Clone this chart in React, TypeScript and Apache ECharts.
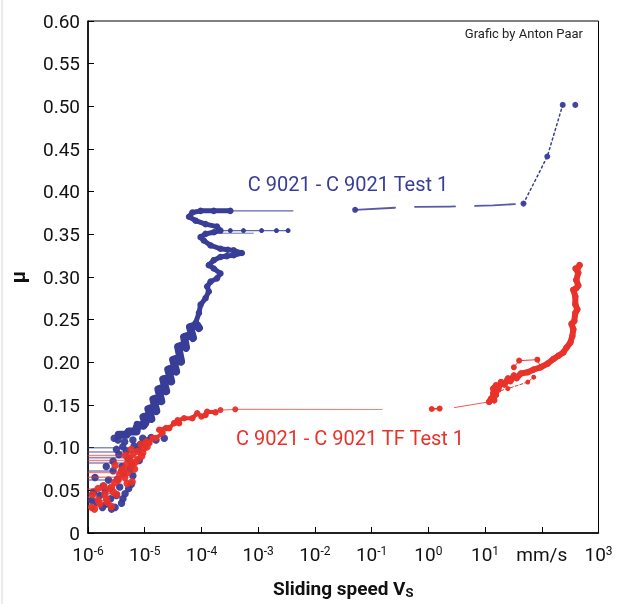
import React, { useEffect, useRef } from "react";
import * as echarts from "echarts";

const BLUE = "#383D98";
const RED = "#E8322A";
const FONT = "Roboto";

// x-axis decades (mm/s) and y range
const xExponents = [-6, -5, -4, -3, -2, -1, 0, 1, 2, 3];
const unitExponent = 2; // position of the "mm/s" label
const yTicks = [0, 0.05, 0.1, 0.15, 0.2, 0.25, 0.3, 0.35, 0.4, 0.45, 0.5, 0.55, 0.6];

// ---------- C 9021 - C 9021 Test 1 (blue) ----------
const blueCluster: [number, number][] = [
  [1.42e-6, 0.036], [2.12e-6, 0.034], [1.16e-6, 0.038], [4.13e-6, 0.04], [1.62e-6, 0.044],
  [3.17e-6, 0.044], [1.85e-6, 0.055], [3.62e-6, 0.054], [1.33e-6, 0.065], [6.18e-6, 0.067],
  [2.77e-6, 0.073], [2.77e-6, 0.084], [5.05e-6, 0.088], [3.17e-6, 0.098], [4.74e-6, 0.096],
  [7.55e-6, 0.098], [3.38e-6, 0.109], [4.43e-6, 0.107], [6.18e-6, 0.109], [9.24e-6, 0.111],
  [1.58e-5, 0.109], [2.21e-5, 0.111], [3.62e-6, 0.115], [5.41e-6, 0.119], [7.08e-6, 0.123],
  [2.3e-6, 0.062], [4.0e-6, 0.078], [5.5e-6, 0.075], [2.0e-6, 0.05], [3.0e-6, 0.03],
  [2.5e-6, 0.04], [5.8e-6, 0.057], [4.5e-6, 0.046], [1.25e-6, 0.048], [8.0e-6, 0.085],
  [3.5e-6, 0.092], [6.5e-6, 0.102], [1.1e-5, 0.108], [2.6e-6, 0.028], [1.8e-6, 0.03],
  [3.9e-6, 0.035], [5.2e-6, 0.052], [3.3e-6, 0.063], [4.2e-6, 0.07], [2.1e-6, 0.078],
  [5.9e-6, 0.081], [4.1e-6, 0.101], [8.4e-6, 0.104], [2.9e-6, 0.111], [1.3e-5, 0.112],
];
const blueClimb: [number, number][] = [
  [3.48e-6, 0.1152], [4.8e-6, 0.1152], [5.2e-6, 0.119], [7.17e-6, 0.119], [7.46e-6, 0.1267],
  [9.5e-6, 0.1256], [1.03e-5, 0.129], [9.5e-6, 0.136], [1.21e-5, 0.1383], [1.31e-5, 0.1337],
  [1.16e-5, 0.1453], [1.48e-5, 0.1476], [1.6e-5, 0.1429], [1.42e-5, 0.1568], [1.81e-5, 0.1591],
  [1.96e-5, 0.1545], [1.74e-5, 0.1684], [2.21e-5, 0.1707], [2.39e-5, 0.1661], [2.12e-5, 0.18],
  [2.7e-5, 0.1823], [2.93e-5, 0.1777], [2.6e-5, 0.1916], [3.3e-5, 0.1939], [3.58e-5, 0.1892],
  [3.17e-5, 0.2031], [4.04e-5, 0.2054], [4.38e-5, 0.2008], [3.88e-5, 0.2182], [4.94e-5, 0.2205],
  [5.36e-5, 0.217], [4.94e-5, 0.2297], [6.55e-5, 0.2321], [7.1e-5, 0.2286], [6.29e-5, 0.2413],
  [8.34e-5, 0.2437], [9.04e-5, 0.2402],
];
const blueWiggle: [number, number][] = [
  [7.91e-5, 0.2463], [9.04e-5, 0.2579], [9.66e-5, 0.2676], [1.18e-4, 0.2752], [1.35e-4, 0.283],
  [1.26e-4, 0.2888], [1.45e-4, 0.2946], [1.88e-4, 0.2984], [2.16e-4, 0.3042], [1.65e-4, 0.31],
  [1.35e-4, 0.3139], [1.65e-4, 0.3197], [2.16e-4, 0.3235], [2.79e-4, 0.3245], [3.69e-4, 0.3255],
  [5.15e-4, 0.3281], [3.69e-4, 0.3312], [2.9e-4, 0.332], [2.16e-4, 0.3331], [1.45e-4, 0.337],
  [1.1e-4, 0.3428], [9.66e-5, 0.3467], [1.18e-4, 0.3505], [1.65e-4, 0.3524], [2.16e-4, 0.3544],
  [1.88e-4, 0.359], [1.18e-4, 0.362], [7.91e-5, 0.366], [6.04e-5, 0.3706], [6.9e-5, 0.3756],
  [9.66e-5, 0.3775], [1.65e-4, 0.3775], [3.23e-4, 0.3775],
];
const blueTopLine: [number, number][] = [[3.23e-4, 0.3775], [4.11e-3, 0.3775]];
const blueBranch: [number, number][] = [
  [2.16e-4, 0.3544], [3.23e-4, 0.3544], [5.51e-4, 0.3544], [1.15e-3, 0.3544], [2.1e-3, 0.3544], [3.37e-3, 0.3544],
];
const blueBranch2: [number, number][] = [[2.16e-4, 0.3513], [8.24e-4, 0.3513]];
const blueHighFlat: [number, number][] = [
  [0.0512, 0.3787], [0.454, 0.382], [2.36, 0.3825], [13.9, 0.384], [47.6, 0.386],
];
const blueHighRise: [number, number][] = [[47.6, 0.386], [125, 0.4412], [234, 0.5017]];
const blueHighDots: [number, number][] = [
  [0.0512, 0.3787], [47.6, 0.386], [125, 0.4412], [234, 0.5017], [390, 0.5017],
];
const blueStubY = [0.0998, 0.095, 0.0882, 0.082, 0.0727, 0.062, 0.046, 0.038];
const blueStubEnd = [7.5e-6, 5e-6, 5e-6, 4e-6, 2.8e-6, 3.6e-6, 3e-6, 2.1e-6];

// ---------- C 9021 - C 9021 TF Test 1 (red) ----------
const redCluster: [number, number][] = [
  [1.16e-6, 0.0303], [1.51e-6, 0.038], [1.62e-6, 0.0341], [1.98e-6, 0.0457], [2.12e-6, 0.0399],
  [2.42e-6, 0.0515], [2.59e-6, 0.0535], [2.96e-6, 0.0593], [3.62e-6, 0.0689], [4.43e-6, 0.065],
  [3.88e-6, 0.0727], [4.13e-6, 0.0747], [4.74e-6, 0.0804], [5.79e-6, 0.0785], [5.41e-6, 0.0862],
  [7.55e-6, 0.0862], [6.18e-6, 0.092], [5.79e-6, 0.0978], [7.55e-6, 0.0958], [8.67e-6, 0.1036],
  [9.89e-6, 0.0998], [1.3e-6, 0.028], [2.6e-6, 0.031], [3.2e-6, 0.045], [1.9e-6, 0.055],
  [4.9e-6, 0.058], [6.6e-6, 0.075], [3.0e-6, 0.079], [8.8e-6, 0.09], [1.2e-6, 0.045],
  [2.2e-6, 0.036], [3.4e-6, 0.062], [5.0e-6, 0.071], [6.8e-6, 0.083], [9.2e-6, 0.094],
  [4.6e-6, 0.091], [2.8e-6, 0.048], [1.5e-6, 0.052], [6.0e-6, 0.06], [1.1e-5, 0.101],
];
const redClimb: [number, number][] = [
  [1.06e-5, 0.1074], [1.21e-5, 0.1056], [1.38e-5, 0.1113], [1.58e-5, 0.1113], [2.06e-5, 0.1171],
  [1.8e-5, 0.121], [2.37e-5, 0.1229], [2.7e-5, 0.1229], [3.3e-5, 0.1287], [4.04e-5, 0.1287],
  [3.8e-5, 0.132], [4.94e-5, 0.1345], [6.9e-5, 0.1345], [8.43e-5, 0.1403], [1.0e-4, 0.1365],
  [1.18e-4, 0.1383], [1.26e-4, 0.1421], [1.77e-4, 0.1414],
];
const redTail: [number, number][] = [[1.77e-4, 0.1414], [2.16e-4, 0.1441], [3.95e-4, 0.1449], [0.153, 0.1447]];
const redTailDots: [number, number][] = [[2.16e-4, 0.1441], [3.95e-4, 0.1449]];
const redMid1: [number, number][] = [[1.15, 0.1453], [1.58, 0.1458]];
const redMid2: [number, number][] = [[2.89, 0.147], [11.8, 0.1537]];
const redHigh: [number, number][] = [
  [11.8, 0.1537], [12.8, 0.1576], [14.5, 0.1555], [13.9, 0.1638], [15.6, 0.162], [13.9, 0.1692],
  [15.6, 0.173], [17, 0.168], [19.1, 0.1769], [22, 0.174], [25.3, 0.1811], [28, 0.178],
  [32.2, 0.1846], [36, 0.1815], [42.7, 0.1869], [56.6, 0.1884], [72.1, 0.1916], [95.5, 0.1942],
  [127, 0.1985], [161, 0.204], [197, 0.2078], [240, 0.2116], [271, 0.217], [319, 0.2231],
  [346, 0.2309], [360, 0.2387], [335, 0.245], [374, 0.2483], [390, 0.2579], [423, 0.262],
  [390, 0.268], [390, 0.2772], [360, 0.285], [406, 0.2868], [440, 0.29], [406, 0.2965],
  [440, 0.305], [395, 0.31], [418, 0.3081], [463, 0.3139],
];
const redLowBranch: [number, number][] = [[15.6, 0.1653], [25.3, 0.1692], [56.6, 0.1769], [72.1, 0.1826]];
const redUpBranch: [number, number][] = [[32.2, 0.1942], [39.9, 0.202], [83.6, 0.2031], [95.5, 0.1942]];
const redStubY = [0.0909, 0.085, 0.071, 0.0654, 0.0515, 0.0422];
const redStubEnd = [6.5e-6, 5e-6, 3e-6, 4.4e-6, 2.4e-6, 2e-6];

const xLabel = (v: number) => {
  const e = Math.round(Math.log10(v));
  if (e === unitExponent) return "mm/s";
  return xExponents.includes(e) ? `10{sup|${e}}` : "";
};

export default function App() {
  const ref = useRef<HTMLDivElement>(null);
  useEffect(() => {
    const chart = echarts.init(ref.current!, null, { renderer: "svg" });
    const scatter = (data: any, color: string, size = 6, z = 2) => ({
      type: "scatter", data, symbol: "circle", symbolSize: size, z, silent: true,
      itemStyle: { color, opacity: 0.95 },
    });
    const line = (data: any, color: string, width: number, opts: any = {}) => ({
      type: "line", data, silent: true, z: opts.z ?? 2,
      symbol: "circle", showSymbol: !!opts.symbolSize, symbolSize: opts.symbolSize ?? 0,
      itemStyle: { color },
      lineStyle: { color, width, type: opts.type ?? "solid", opacity: opts.opacity ?? 1, join: "round", cap: "round" },
    });
    const series: any[] = [];
    blueStubY.forEach((y, i) => series.push(line([[1e-6, y], [blueStubEnd[i], y]], BLUE, 1.5, { opacity: 0.6 })));
    series.push(scatter(blueCluster, BLUE, 7.5));
    series.push(line(blueClimb, BLUE, 8, { symbolSize: 7 }));
    series.push(line(blueWiggle, BLUE, 5, { symbolSize: 6.5 }));
    series.push(line(blueTopLine, BLUE, 1.2, { opacity: 0.8 }));
    series.push(line(blueBranch, BLUE, 1.2, { symbolSize: 5, opacity: 0.8 }));
    series.push(line(blueBranch2, BLUE, 1, { opacity: 0.7 }));
    series.push(line(blueHighFlat, BLUE, 1.8, { type: [40, 20], opacity: 0.85 }));
    series.push(line(blueHighRise, BLUE, 1.5, { type: [2, 3] }));
    series.push(scatter(blueHighDots, BLUE, 6));

    redStubY.forEach((y, i) => series.push(line([[1e-6, y], [redStubEnd[i], y]], RED, 1.5, { opacity: 0.6, z: 3 })));
    series.push(scatter(redCluster, RED, 7.5, 3));
    series.push(line(redClimb, RED, 4, { symbolSize: 6.5, z: 3 }));
    series.push(line(redTail, RED, 1.2, { opacity: 0.6, z: 3 }));
    series.push(scatter(redTailDots, RED, 6, 3));
    series.push(line(redMid1, RED, 1.5, { symbolSize: 6, z: 3 }));
    series.push(line(redMid2, RED, 1, { opacity: 0.8, z: 3 }));
    series.push(line(redHigh, RED, 6, { symbolSize: 6.5, z: 3 }));
    series.push(line(redLowBranch, RED, 1, { symbolSize: 5, type: [3, 2], z: 3 }));
    series.push(line(redUpBranch, RED, 1, { symbolSize: 6, z: 3 }));

    chart.setOption({
      animation: false,
      textStyle: { fontFamily: FONT },
      grid: { left: 83, right: 20.5, top: 21, bottom: 64.5, show: true, borderColor: "#000", borderWidth: 1 },
      xAxis: {
        type: "log", logBase: 10, min: 1e-6, max: 1e3,
        axisLine: { lineStyle: { color: "#000", width: 1.5 } },
        axisTick: { inside: true, length: 6, lineStyle: { color: "#000" } },
        splitLine: { show: false }, minorTick: { show: false },
        axisLabel: {
          formatter: xLabel, color: "#111", fontSize: 19, fontFamily: FONT, margin: 12,
          rich: { sup: { fontSize: 12, fontFamily: FONT, color: "#111", verticalAlign: "top", lineHeight: 12, padding: [0, 0, 8, 0] } },
        },
        name: "Sliding speed V{sub|S}", nameLocation: "middle", nameGap: 45,
        nameTextStyle: {
          fontSize: 19, fontWeight: "bold", color: "#111", fontFamily: FONT,
          rich: { sub: { fontSize: 13, fontWeight: "bold", color: "#111", fontFamily: FONT, padding: [8, 0, 0, 0] } },
        },
      },
      yAxis: {
        type: "value", min: yTicks[0], max: yTicks[yTicks.length - 1], interval: 0.05,
        axisLine: { show: true, lineStyle: { color: "#000", width: 1.5 } },
        axisTick: { show: true, inside: true, length: 6, lineStyle: { color: "#000" } },
        splitLine: { show: false },
        axisLabel: {
          formatter: (v: number) => (v === 0 ? "0" : v.toFixed(2)),
          color: "#111", fontSize: 19, fontFamily: FONT, margin: 8,
        },
        name: "μ", nameLocation: "middle", nameGap: 60,
        nameTextStyle: { fontSize: 20, fontWeight: "bold", color: "#111", fontFamily: FONT },
      },
      graphic: [
        { type: "line", shape: { x1: 2, y1: 0, x2: 2, y2: 604 }, style: { stroke: "#d8d8d8", lineWidth: 1 } },
        { type: "text", right: 36, top: 27, style: { text: "Grafic by Anton Paar", fontSize: 13, fontFamily: FONT, fill: "#222" } },
        { type: "text", x: 348, y: 184, style: { text: "C 9021 - C 9021 Test 1", fontSize: 20, fontFamily: FONT, fill: BLUE, align: "center", verticalAlign: "middle" } },
        { type: "text", x: 350, y: 438, style: { text: "C 9021 - C 9021 TF Test 1", fontSize: 20, fontFamily: FONT, fill: RED, align: "center", verticalAlign: "middle" } },
      ],
      series,
    });
    return () => chart.dispose();
  }, []);
  return <div ref={ref} style={{ position: "fixed", left: 0, top: 0, width: 619, height: 604 }} />;
}
